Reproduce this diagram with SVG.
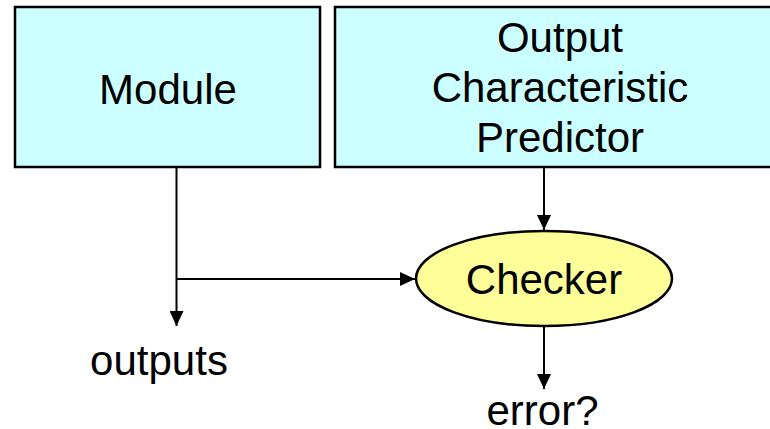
<svg xmlns="http://www.w3.org/2000/svg" width="770" height="429" viewBox="0 0 770 429">
<style>
.box{fill:#CCFFFF;stroke:#000;stroke-width:2.5}
.ell{fill:#FFFF99;stroke:#000;stroke-width:2.5}
.t{font-family:"Liberation Sans",Arial,sans-serif;font-size:42px;fill:#000;text-anchor:middle}
.c{fill:none;stroke:#000;stroke-width:2}
</style>
<defs>
<marker id="ah" viewBox="0 0 15 14" refX="15" refY="7" markerWidth="15" markerHeight="14" markerUnits="userSpaceOnUse" orient="auto">
<path d="M0,0 L15,7 L0,14 Z" fill="#000"/>
</marker>
</defs>
<rect width="770" height="429" fill="#fff"/>
<g id="module">
<rect class="box" x="15" y="7" width="305" height="160"/>
<text class="t" x="168" y="104">Module</text>
</g>
<g id="predictor">
<rect class="box" x="335" y="7" width="450" height="160"/>
<text class="t" x="560" y="52">Output</text>
<text class="t" x="560" y="102">Characteristic</text>
<text class="t" x="560" y="152">Predictor</text>
</g>
<g id="checker">
<ellipse class="ell" cx="544" cy="278.5" rx="128" ry="47.5"/>
<text class="t" x="544" y="294">Checker</text>
</g>
<g id="outputs">
<text class="t" x="159" y="375">outputs</text>
</g>
<g id="error">
<text class="t" x="542.5" y="425">error?</text>
</g>
<g id="connectors">
<line class="c" x1="176.5" y1="168" x2="176.5" y2="326" marker-end="url(#ah)"/>
<line class="c" x1="176.5" y1="279" x2="415" y2="279" marker-end="url(#ah)"/>
<line class="c" x1="544" y1="168" x2="544" y2="230" marker-end="url(#ah)"/>
<line class="c" x1="544" y1="326" x2="544" y2="389" marker-end="url(#ah)"/>
</g>
</svg>
